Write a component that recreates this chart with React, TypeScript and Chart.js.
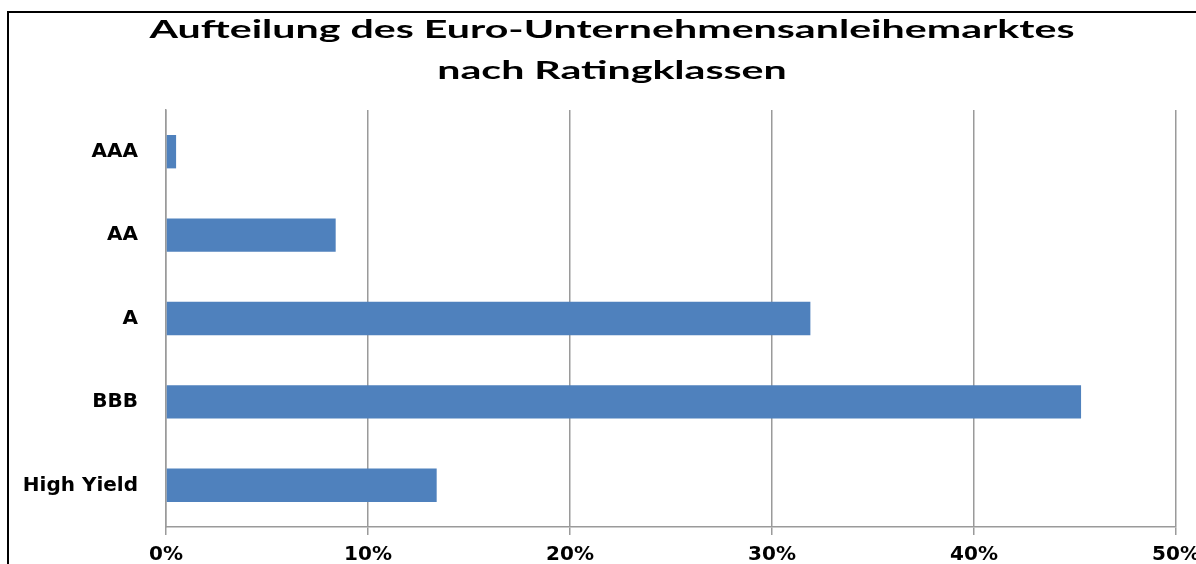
import React, { useEffect, useRef } from 'react';
import { Chart, registerables } from 'chart.js';

Chart.register(...registerables);

const titleLines = ['Aufteilung des Euro-Unternehmensanleihemarktes', 'nach Ratingklassen'];
const categories = ['AAA', 'AA', 'A', 'BBB', 'High Yield'];
const shares = [0.5, 8.4, 31.9, 45.3, 13.4];
const xMin = 0;
const xMax = 50;
const xStep = 10;

const framePlugin = {
  id: 'frame',
  beforeDraw(chart: any) {
    const ctx = chart.ctx;
    ctx.save();
    ctx.fillStyle = '#ffffff';
    ctx.fillRect(0, 0, chart.width, chart.height);
    ctx.strokeStyle = '#000000';
    ctx.lineWidth = 2;
    ctx.strokeRect(8, 12, chart.width + 40, chart.height + 40);
    ctx.restore();
  },
};

// Title drawn as canvas text, horizontally stretched like the reference's wide bold face
const titlePlugin = {
  id: 'wideTitle',
  afterDraw(chart: any) {
    const ctx = chart.ctx;
    const centerX = 612;
    const baselines = [38, 79];
    const stretch = 1.645;
    ctx.save();
    ctx.fillStyle = '#000000';
    ctx.font = 'bold 25px Lato';
    ctx.textAlign = 'center';
    ctx.textBaseline = 'alphabetic';
    titleLines.forEach((line, i) => {
      ctx.save();
      ctx.translate(centerX, baselines[i]);
      ctx.scale(stretch, 1);
      ctx.fillText(line, 0, 0);
      ctx.restore();
    });
    ctx.restore();
  },
};

export default function App() {
  const ref = useRef<HTMLCanvasElement | null>(null);

  useEffect(() => {
    if (!ref.current) return;
    const tickFont = { family: 'DejaVu Sans', weight: 'bold' as const, size: 20 };
    const chart = new Chart(ref.current, {
      type: 'bar',
      data: {
        labels: categories,
        datasets: [
          {
            data: shares,
            backgroundColor: '#4F81BD',
            borderWidth: 0,
            barPercentage: 0.4,
            categoryPercentage: 1.0,
          },
        ],
      },
      options: {
        indexAxis: 'y',
        animation: false,
        responsive: false,
        devicePixelRatio: 1,
        layout: { padding: { left: 0, right: 20, top: 110, bottom: 0 } },
        plugins: {
          legend: { display: false },
          tooltip: { enabled: false },
          title: { display: false },
        },
        scales: {
          x: {
            type: 'linear',
            position: 'bottom',
            min: xMin,
            max: xMax,
            ticks: {
              stepSize: xStep,
              color: '#000000',
              font: tickFont,
              padding: 8,
              maxRotation: 0,
              callback: (v: any) => `${v}%`,
            },
            grid: { color: '#9a9a9a', lineWidth: 1.5, tickLength: 8, drawTicks: true },
            border: { color: '#9a9a9a', width: 1.5 },
            afterFit(s: any) {
              s.height = 37;
              s.paddingLeft = 0;
              s.paddingRight = 0;
            },
          },
          y: {
            type: 'category',
            ticks: { color: '#000000', font: tickFont, padding: 28 },
            grid: { display: false, drawTicks: false },
            border: { display: true, color: '#9a9a9a', width: 1.5 },
            afterFit(s: any) {
              s.width = 166;
              s.paddingTop = 0;
              s.paddingBottom = 0;
            },
          },
        },
      },
      plugins: [framePlugin, titlePlugin],
    });
    return () => chart.destroy();
  }, []);

  return (
    <div style={{ position: 'fixed', left: 0, top: 0, width: 1196, height: 564, overflow: 'hidden', background: '#fff' }}>
      <canvas ref={ref} width={1196} height={564} style={{ display: 'block', width: 1196, height: 564 }} />
    </div>
  );
}
